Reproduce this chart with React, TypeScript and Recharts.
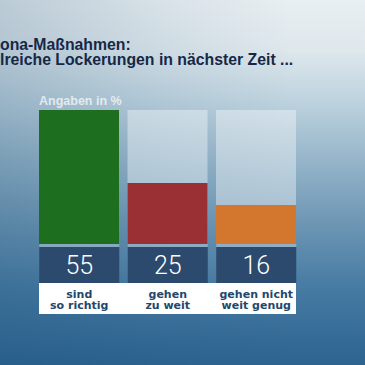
import { BarChart, Bar, XAxis, YAxis, Cell } from 'recharts'

const categories = ['sind so richtig', 'gehen zu weit', 'gehen nicht weit genug']
const labelLines = [
  ['sind', 'so richtig'],
  ['gehen', 'zu weit'],
  ['gehen nicht', 'weit genug'],
]
const values = [55, 25, 16]
const barColors = ['#1d6e1f', '#9a3033', '#d3772f']
const titleLines = ['ona-Maßnahmen:', 'lreiche Lockerungen in nächster Zeit ...']
const unitNote = 'Angaben in %'

const data = categories.map((name, i) => ({ name, value: values[i] }))

const font = '"Liberation Sans", Arial, sans-serif'

function ValueTick(props: any) {
  const { x, y, index } = props
  const last = categories.length - 1
  const left = index === 0 ? x - 40 : x - 45
  const right = index === last ? x + 40 : x + 45
  return (
    <g>
      <rect x={x - 40} y={y} width={80} height={3} fill="#ffffff" fillOpacity={0.3} />
      <rect x={x - 40} y={y + 3} width={80} height={36} fill="#2c4a6d" />
      <text x={x} y={y + 30} textAnchor="middle" fill="#ffffff" fontFamily="Roboto, sans-serif" fontWeight={300} fontSize={25}>
        {values[index]}
      </text>
      <rect x={left} y={y + 39} width={right - left} height={31} fill="#ffffff" shapeRendering="crispEdges" />
      {labelLines[index].map((line, j) => (
        <text key={j} x={x} y={y + 54.2 + j * 11.2} textAnchor="middle" fill="#24476c" fontFamily='"DejaVu Sans", sans-serif' fontWeight={700} fontSize={11}>
          {line}
        </text>
      ))}
    </g>
  )
}

export default function App() {
  return (
    <div
      style={{
        position: 'relative',
        width: 365,
        height: 365,
        overflow: 'hidden',
        background:
          'linear-gradient(90deg, rgba(25,75,115,0.22) 0%, rgba(25,75,115,0.08) 45%, rgba(25,75,115,0) 80%), linear-gradient(180deg, #e9eff2 0%, #dde7ec 14%, #bdd2de 28%, #93b3c8 45%, #6b95b3 62%, #4479a2 80%, #2c6490 100%)',
      }}
    >
      <style>{'body{margin:0}'}</style>
      <BarChart
        width={365}
        height={365}
        data={data}
        margin={{ top: 110, right: 64.5, bottom: 0, left: 35 }}
      >
        <XAxis
          dataKey="name"
          axisLine={false}
          tickLine={false}
          tickSize={0}
          tickMargin={0}
          height={121}
          interval={0}
          tick={<ValueTick />}
        />
        <YAxis hide domain={[0, 55]} />
        <Bar
          dataKey="value"
          barSize={80}
          isAnimationActive={false}
          background={{ fill: '#ffffff', fillOpacity: 0.38 }}
        >
          {data.map((d, i) => (
            <Cell key={d.name} fill={barColors[i]} />
          ))}
        </Bar>
      </BarChart>
      <svg width={365} height={365} style={{ position: 'absolute', left: 0, top: 0, pointerEvents: 'none' }}>
        {titleLines.map((line, i) => (
          <text key={i} x={0} y={50 + i * 15} fill="#172847" fontFamily={font} fontWeight={700} fontSize={15.8}>
            {line}
          </text>
        ))}
        <text x={39} y={105} fill="#ffffff" fillOpacity={0.7} fontFamily={font} fontWeight={700} fontSize={12.5}>
          {unitNote}
        </text>
      </svg>
    </div>
  )
}
